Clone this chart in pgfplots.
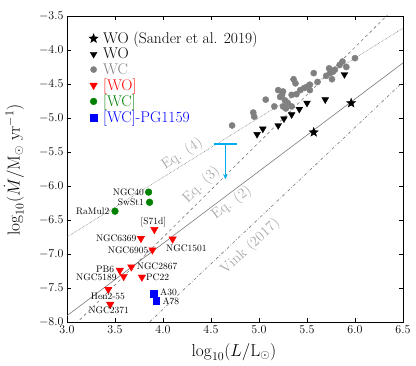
\documentclass[border=0pt]{standalone}
\usepackage{pgfplots}
\pgfplotsset{compat=1.18}
\usetikzlibrary{arrows.meta,plotmarks}

\definecolor{wcgray}{HTML}{808080}
\definecolor{linegray}{HTML}{7A7A7A}
\definecolor{eqgray}{HTML}{A8A8A8}
\definecolor{mplred}{HTML}{FF0000}
\definecolor{mplgreen}{HTML}{008000}
\definecolor{mplblue}{HTML}{0000FF}

% filled five-pointed star
\pgfdeclareplotmark{fstar}{%
  \pgfpathmoveto{\pgfpointpolar{90}{\pgfplotmarksize}}%
  \pgfpathlineto{\pgfpointpolar{126}{0.42\pgfplotmarksize}}%
  \pgfpathlineto{\pgfpointpolar{162}{\pgfplotmarksize}}%
  \pgfpathlineto{\pgfpointpolar{198}{0.42\pgfplotmarksize}}%
  \pgfpathlineto{\pgfpointpolar{234}{\pgfplotmarksize}}%
  \pgfpathlineto{\pgfpointpolar{270}{0.42\pgfplotmarksize}}%
  \pgfpathlineto{\pgfpointpolar{306}{\pgfplotmarksize}}%
  \pgfpathlineto{\pgfpointpolar{342}{0.42\pgfplotmarksize}}%
  \pgfpathlineto{\pgfpointpolar{18}{\pgfplotmarksize}}%
  \pgfpathlineto{\pgfpointpolar{54}{0.42\pgfplotmarksize}}%
  \pgfpathclose
  \pgfusepathqfillstroke
}

\newcommand{\annfont}{\fontsize{9.5}{10}\selectfont}
\newcommand{\eqfont}{\fontsize{14.5}{15}\selectfont}

\begin{document}
\begin{tikzpicture}
\useasboundingbox (-67pt,-44pt) rectangle (349pt,322pt);
\begin{axis}[
  at={(0,0)}, anchor=south west,
  scale only axis,
  width=336pt, height=306pt,
  xmin=3.0, xmax=6.5, ymin=-8.0, ymax=-3.5,
  xtick={3.0,3.5,...,6.5},
  ytick={-8.0,-7.5,...,-3.5},
  tick align=inside,
  major tick length=4pt,
  minor tick num=0,
  axis line style={line width=0.9pt},
  tick style={line width=0.7pt, black},
  xticklabel style={/pgf/number format/.cd, fixed, fixed zerofill, precision=1},
  yticklabel style={/pgf/number format/.cd, fixed, fixed zerofill, precision=1},
  tick label style={font=\fontsize{11.5}{12}\selectfont},
  xlabel={$\log_{10}(L/\mathrm{L}_\odot)$},
  ylabel={$\log_{10}(\dot{M}/\mathrm{M}_\odot\ \mathrm{yr}^{-1})$},
  label style={font=\fontsize{17}{18}\selectfont},
  xlabel style={at={(axis description cs:0.497,-0.098)}, anchor=center},
  ylabel style={at={(axis description cs:-0.158,0.497)}, anchor=center},
  clip mode=individual,
  legend style={at={(rel axis cs:0.065,0.955)}, anchor=north west,
    draw=none, fill=none, inner sep=0pt, row sep=-1pt, column sep=3pt,
    font=\fontsize{15.5}{16}\selectfont, legend cell align=left},
]
% relations (grey lines)
\addplot[linegray, line width=0.6pt, densely dotted, forget plot] coordinates {(3.0,-6.75) (6.5,-3.68)};
\addplot[linegray, line width=0.6pt, dashed, forget plot] coordinates {(3.0,-8.154) (6.5,-3.26)};
\addplot[linegray, line width=0.6pt, forget plot] coordinates {(3.0,-7.907) (6.5,-4.19)};
\addplot[linegray, line width=0.6pt, dash dot, forget plot] coordinates {(3.0,-9.15) (6.5,-4.47)};

% WO (Sander et al. 2019)
\addplot[only marks, mark=fstar, mark size=4.8pt, black] coordinates {
  (5.57,-5.21) (5.96,-4.78)
};
\addlegendentry{WO (Sander et al. 2019)}
% WO
\addplot[only marks, mark=triangle*, mark size=3.9pt, mark options={rotate=180}, black] coordinates {
  (4.98,-5.24) (5.04,-5.16) (5.20,-5.11) (5.26,-5.01) (5.34,-4.95)
  (5.42,-4.87) (5.50,-4.78) (5.69,-4.73) (5.89,-4.36)
};
\addlegendentry{WO}
% WC
\addplot[only marks, mark=*, mark size=3.1pt, wcgray, mark options={draw=wcgray, fill=wcgray}] coordinates {
  (4.72,-5.11) (4.94,-4.92) (4.95,-4.98) (5.07,-4.73) (5.16,-4.83)
  (5.20,-4.59) (5.24,-4.66) (5.25,-4.61) (5.22,-4.69) (5.27,-4.74)
  (5.25,-4.83) (5.28,-4.86) (5.30,-4.78) (5.34,-4.83) (5.34,-4.66)
  (5.36,-4.43) (5.38,-4.49) (5.39,-4.65) (5.43,-4.59) (5.47,-4.56)
  (5.50,-4.54) (5.53,-4.59) (5.53,-4.51) (5.57,-4.34) (5.61,-4.47)
  (5.70,-4.38) (5.73,-4.27) (5.74,-4.34) (5.77,-4.32) (5.79,-4.29)
  (5.76,-4.43) (5.84,-4.22) (5.87,-4.17) (5.91,-4.25) (6.00,-4.12)
};
\addlegendentry{\textcolor{wcgray}{WC}}
% [WO]
\addplot[only marks, mark=triangle*, mark size=4.3pt, mark options={rotate=180}, mplred] coordinates {
  (3.91,-6.64) (3.77,-6.77) (4.10,-6.78) (3.89,-6.94) (3.67,-7.19)
  (3.55,-7.24) (3.59,-7.33) (3.78,-7.34) (3.43,-7.52) (3.45,-7.74)
};
\addlegendentry{\textcolor{mplred}{[WO]}}
% [WC]
\addplot[only marks, mark=*, mark size=3.4pt, mplgreen] coordinates {
  (3.85,-6.09) (3.86,-6.24) (3.50,-6.37)
};
\addlegendentry{\textcolor{mplgreen}{[WC]}}
% [WC]-PG1159
\addplot[only marks, mark=square*, mark size=3.4pt, mplblue] coordinates {
  (3.90,-7.58) (3.93,-7.69)
};
\addlegendentry{\textcolor{mplblue}{[WC]-PG1159}}

% upper limit (cyan)
\addplot[cyan, line width=1.6pt, forget plot] coordinates {(4.53,-5.38) (4.77,-5.38)};
\addplot[cyan, line width=1.3pt, -{Stealth[length=5pt,width=4.5pt]}, forget plot] coordinates {(4.65,-5.38) (4.65,-5.90)};

% relation labels
\node[eqgray, font=\eqfont, rotate=33] at (axis cs:4.20,-5.53) {Eq. (4)};
\node[eqgray, font=\eqfont, rotate=44.7] at (axis cs:4.40,-5.985) {Eq. (3)};
\node[eqgray, font=\eqfont, rotate=37] at (axis cs:4.716,-6.25) {Eq. (2)};
\node[eqgray, font=\eqfont, rotate=42.5] at (axis cs:4.91,-6.89) {Vink (2017)};

% object names
\node[font=\annfont, anchor=west, inner sep=0pt] at (axis cs:3.476,-6.09) {NGC40};
\node[font=\annfont, anchor=west, inner sep=0pt] at (axis cs:3.528,-6.24) {SwSt1};
\node[font=\annfont, anchor=west, inner sep=0pt] at (axis cs:3.094,-6.37) {RaMul2};
\node[font=\annfont, anchor=center, inner sep=0pt] at (axis cs:3.899,-6.525) {[S71d]};
\node[font=\annfont, anchor=east, inner sep=0pt] at (axis cs:3.726,-6.765) {NGC6369};
\node[font=\annfont, anchor=west, inner sep=0pt] at (axis cs:4.031,-6.916) {NGC1501};
\node[font=\annfont, anchor=west, inner sep=0pt] at (axis cs:3.424,-6.94) {NGC6905};
\node[font=\annfont, anchor=west, inner sep=0pt] at (axis cs:3.726,-7.187) {NGC2867};
\node[font=\annfont, anchor=west, inner sep=0pt] at (axis cs:3.302,-7.225) {PB6};
\node[font=\annfont, anchor=west, inner sep=0pt] at (axis cs:3.094,-7.343) {NGC5189};
\node[font=\annfont, anchor=west, inner sep=0pt] at (axis cs:3.823,-7.343) {PC22};
\node[font=\annfont, anchor=west, inner sep=0pt] at (axis cs:3.969,-7.563) {A30};
\node[font=\annfont, anchor=west, inner sep=0pt] at (axis cs:3.993,-7.687) {A78};
\node[font=\annfont, anchor=west, inner sep=0pt] at (axis cs:3.247,-7.618) {Hen2-55};
\node[font=\annfont, anchor=west, inner sep=0pt] at (axis cs:3.222,-7.834) {NGC2371};
\end{axis}
\end{tikzpicture}
\end{document}
